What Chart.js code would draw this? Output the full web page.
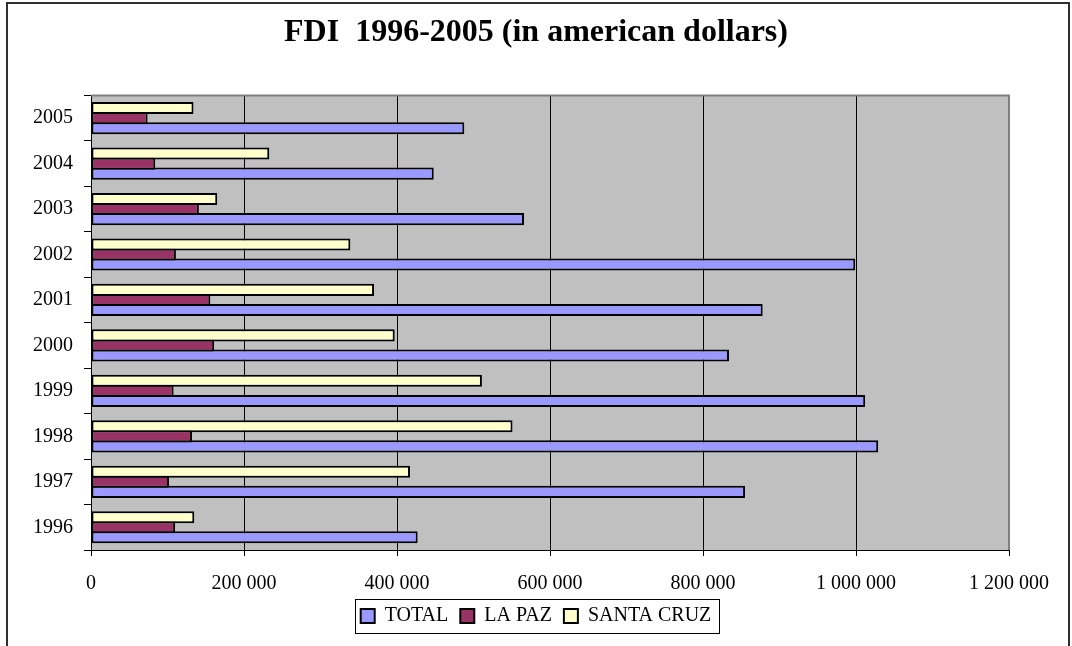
<!DOCTYPE html>
<html lang="en">
<head>
  <meta charset="UTF-8">
  <title>FDI 1996-2005</title>
  <script src="https://cdn.jsdelivr.net/npm/chart.js"></script>
  <style>
    body {
      margin: 0;
      background-color: #ffffff;
    }
    #chart-container {
      position: absolute;
      left: 0;
      top: 0;
      width: 1072px;
      height: 646px;
    }
    #frame {
      position: absolute;
      left: 6px;
      top: 2px;
      width: 1060px;
      height: 700px;
      border: 2px solid #303030;
      pointer-events: none;
    }
  </style>
</head>
<body>
  <div id="frame"></div>
  <div id="chart-container">
    <canvas id="fdiChart"></canvas>
  </div>
  <script>
    // values, in US dollars
    const years = ['1996', '1997', '1998', '1999', '2000', '2001', '2002', '2003', '2004', '2005'];
    const total = [427000, 855000, 1029000, 1012000, 834000, 878000, 999000, 566000, 448000, 488000];
    const laPaz = [110000, 102000, 132000, 108000, 161000, 156000, 111000, 141000, 84000, 74000];
    const santaCruz = [135000, 417000, 551000, 511000, 397000, 370000, 339000, 165000, 233000, 134000];
    const seriesNames = ['TOTAL', 'LA PAZ', 'SANTA CRUZ'];
    const seriesColors = ['#9999FF', '#993366', '#FFFFCC'];

    const serif = '"Liberation Serif", "Times New Roman", serif';

    // gray plot area, gray border on top and right, box round the legend
    const excelLook = {
      id: 'excelLook',
      beforeDraw(chart) {
        const a = chart.chartArea;
        const ctx = chart.ctx;
        ctx.save();
        ctx.fillStyle = '#C0C0C0';
        ctx.fillRect(a.left, a.top, a.right - a.left, a.bottom - a.top);
        ctx.restore();
      },
      afterDraw(chart) {
        const a = chart.chartArea;
        const ctx = chart.ctx;
        ctx.save();
        ctx.strokeStyle = '#808080';
        ctx.lineWidth = 2;
        ctx.beginPath();
        ctx.moveTo(a.left, a.top);
        ctx.lineTo(a.right, a.top);
        ctx.lineTo(a.right, a.bottom);
        ctx.stroke();

        const boxes = chart.legend.legendHitBoxes;
        if (boxes && boxes.length) {
          const lefts = boxes.map(b => b.left);
          const rights = boxes.map(b => b.left + b.width);
          const x0 = Math.round(Math.min(...lefts) - 6) + 0.5;
          const x1 = Math.round(Math.max(...rights) + 8) + 0.5;
          const y0 = Math.round(boxes[0].top - 7) + 0.5;
          const y1 = Math.round(boxes[0].top + boxes[0].height + 7) + 0.5;
          ctx.strokeStyle = '#000000';
          ctx.lineWidth = 1;
          ctx.strokeRect(x0, y0, x1 - x0, y1 - y0);
        }
        ctx.restore();
      }
    };

    const spaced = v => String(v).replace(/\B(?=(\d{3})+(?!\d))/g, ' ');

    // drawn bottom-up inside each year: SANTA CRUZ on top, TOTAL lowest
    const order = [2, 1, 0];
    const seriesValues = [total, laPaz, santaCruz];

    const ctx = document.getElementById('fdiChart').getContext('2d');
    const fdiChart = new Chart(ctx, {
      type: 'bar',
      data: {
        labels: years,
        datasets: order.map(i => ({
          label: seriesNames[i],
          data: seriesValues[i],
          backgroundColor: seriesColors[i],
          borderColor: '#000000',
          borderWidth: 2,
          borderSkipped: false,
          categoryPercentage: 0.664,
          barPercentage: 1.2
        }))
      },
      options: {
        indexAxis: 'y',
        responsive: true,
        maintainAspectRatio: false,
        animation: false,
        layout: {
          padding: { left: 63, right: 63, top: 0, bottom: 10 }
        },
        scales: {
          x: {
            min: 0,
            max: 1200000,
            ticks: {
              stepSize: 200000,
              color: '#000000',
              padding: 16,
              maxRotation: 0,
              font: { family: serif, size: 20 },
              callback: v => spaced(v)
            },
            grid: {
              color: '#000000',
              lineWidth: 1,
              tickLength: 6
            },
            border: { color: '#000000', width: 1 },
            afterFit: scale => { scale.height = 44; }
          },
          y: {
            reverse: true,
            ticks: {
              color: '#000000',
              padding: 11,
              font: { family: serif, size: 20 }
            },
            grid: {
              drawOnChartArea: false,
              color: '#000000',
              tickLength: 7,
              offset: true
            },
            border: { color: '#000000', width: 1 },
            afterFit: scale => {
              scale.width = 28;
              // labels hang out to the left of the narrow axis box, do not clip them
              scale._computeLabelArea = () => undefined;
            }
          }
        },
        plugins: {
          title: {
            display: true,
            text: 'FDI  1996-2005 (in american dollars)',
            color: '#000000',
            font: { family: serif, size: 32, weight: 'bold', lineHeight: 1.2 },
            padding: { top: 14, bottom: 43 }
          },
          legend: {
            position: 'bottom',
            reverse: true,
            labels: {
              color: '#000000',
              boxWidth: 14,
              boxHeight: 14,
              padding: 12,
              font: { family: serif, size: 20 }
            }
          },
          tooltip: { enabled: false }
        }
      },
      plugins: [excelLook]
    });
  </script>
</body>
</html>
